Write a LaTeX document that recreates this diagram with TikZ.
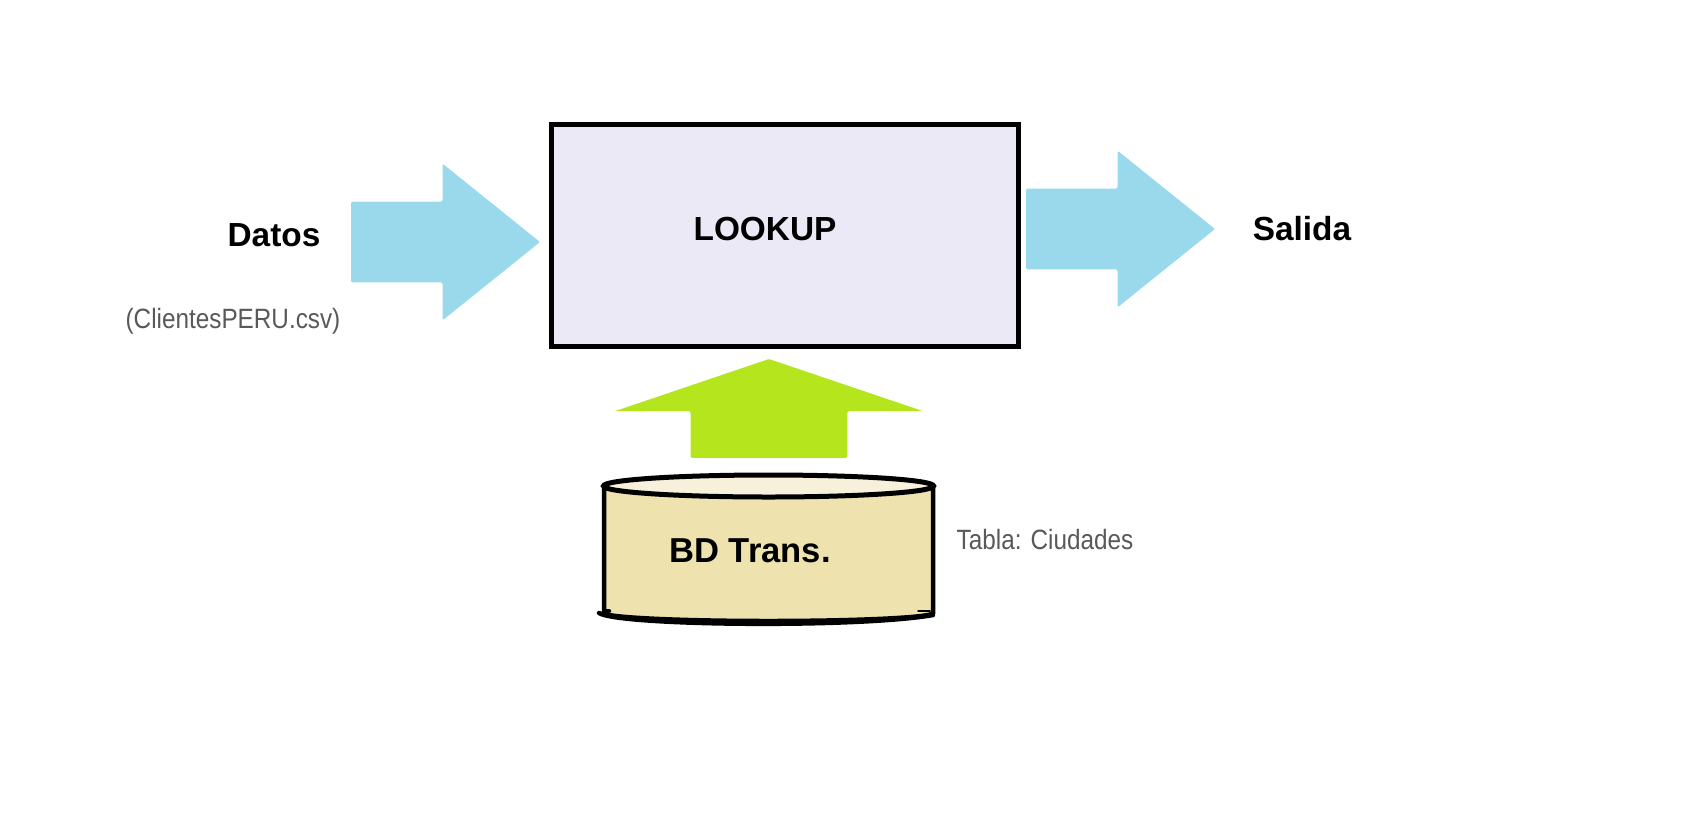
\documentclass[tikz,border=0pt]{standalone}
\usepackage{fontspec}
\setmainfont{Liberation Sans}
\newfontfamily\notefont[FakeStretch=0.87]{Liberation Sans}
\usetikzlibrary{positioning,shapes.arrows}
\definecolor{boxfill}{HTML}{EBE9F6}
\definecolor{flowblue}{HTML}{9AD9EB}
\definecolor{flowgreen}{HTML}{B5E61D}
\definecolor{dbbody}{HTML}{EEE3AE}
\definecolor{dbtop}{HTML}{F7F1DC}
\definecolor{notegray}{HTML}{595959}

\begin{document}
\begin{tikzpicture}[x=0.02cm, y=-0.02cm,
    title/.style={anchor=base, inner sep=0pt, font=\fontsize{19}{23}\selectfont\bfseries},
    note/.style={anchor=base, inner sep=0pt, text=notegray, font=\notefont\fontsize{15.9}{19}\selectfont},
    flowblock/.style={single arrow, anchor=tip, outer sep=0pt, rounded corners=0.03cm},
    blueflow/.style={flowblock, fill=flowblue, inner xsep=0pt, inner ysep=0.8cm, minimum height=3.78cm,
      single arrow head extend=0.76cm, single arrow tip angle=77.6},
    greenflow/.style={flowblock, fill=flowgreen, inner xsep=1.56cm, inner ysep=0pt, minimum height=1.98cm,
      single arrow head extend=1.52cm, single arrow tip angle=142.6, shape border rotate=90},
    dbline/.style={draw=black, line width=0.09cm, line cap=round}]
  \useasboundingbox (0,0) rectangle (1689,825);

  % Nodes
  \node[draw, rectangle, line width=0.1cm, fill=boxfill, minimum width=9.34cm, minimum height=4.44cm] (lookupbox) at (785,235.5) {};
  \node[title] (lookup) at (765,240) {LOOKUP};

  % Arrows
  \node[blueflow] (datosarrow) at (540,242) {};
  \node[blueflow] (salidaarrow) at (1215,229) {};
  \node[greenflow] (tablaarrow) at (769,359) {};

  % Database
  \path[dbline, fill=dbbody] (604,486) -- (604,613) arc[start angle=180, end angle=360, x radius=164.5, y radius=-8] -- (933,486) -- cycle;
  \draw[dbline] (599,613) .. controls (620,626) and (860,628) .. (933,615);
  \draw[dbline] (604,611) -- (609,611);
  \draw[dbline, line width=0.03cm] (918,611) -- (930,611);
  \draw[dbline, line width=0.1cm, fill=dbtop] (768.5,486) ellipse[x radius=165, y radius=11];
  \node[title, font=\fontsize{19.7}{23}\selectfont\bfseries] (bdtrans) at (750,562) {BD Trans.};

  % Labels
  \node[title] (datos) at (274,246) {Datos};
  \node[title] (salida) at (1302,240) {Salida};
  \node[note] (clientes) at (233,328) {(ClientesPERU.csv)};
  \node[note] (ciudades) at (1045,549) {Tabla: Ciudades};
\end{tikzpicture}
\end{document}
